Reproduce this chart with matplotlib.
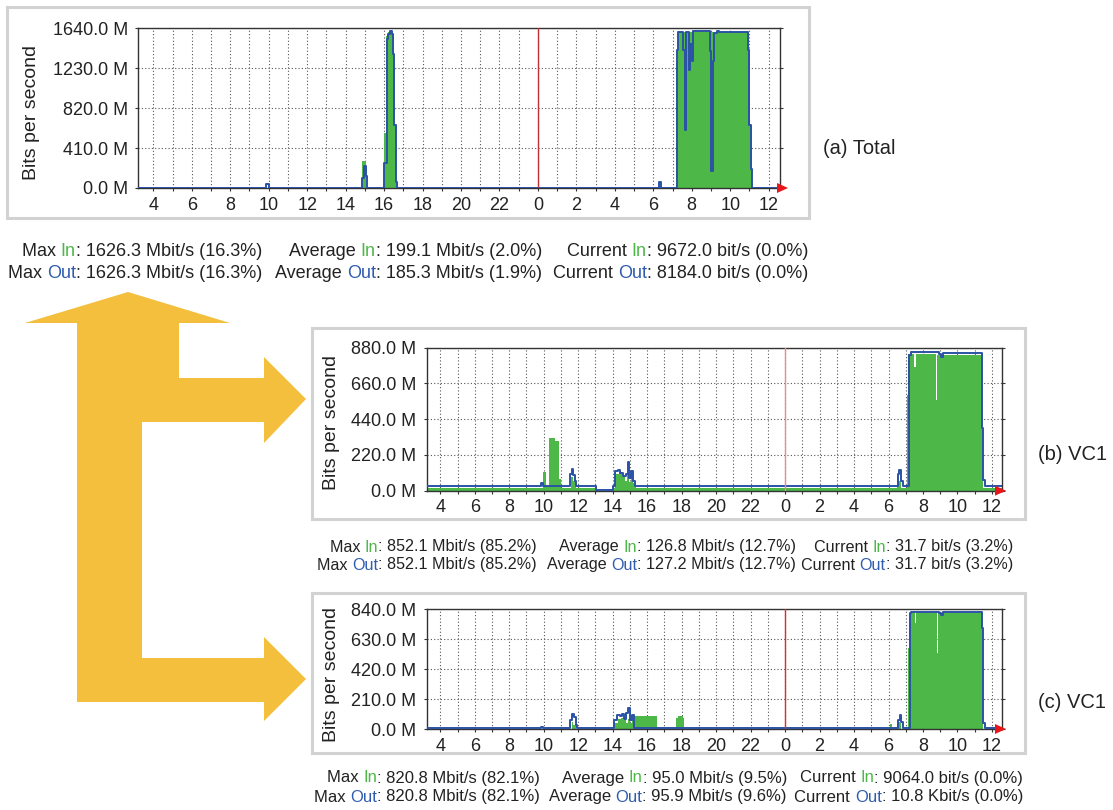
"""
MRTG-style traffic graphs: total link vs. two VC1 views, joined by a yellow arrow.
Writes out.png (1113 x 810 px).
"""

import matplotlib
matplotlib.use("Agg")
import matplotlib.pyplot as plt
from matplotlib.patches import Polygon, Rectangle
from matplotlib.ticker import MultipleLocator

W, H = 1113, 810
plt.rcParams["font.family"] = ["Liberation Sans", "DejaVu Sans"]

GREEN = "#4DB848"
BLUE = "#2B52A6"
TXT_GREEN = "#4DB848"
TXT_BLUE = "#2F5BB0"
TXT = "#222222"
YELLOW = "#F3BF3C"

# time axis in hours from midnight of day 1 (24 = next midnight)
X_START, X_END = 3.2, 36.6
HOUR_TICKS = list(range(4, 37, 2))
HOUR_LABELS = [str(h % 24) for h in HOUR_TICKS]

# (a) Total, Mbit/s
A_YTICKS = [0, 410, 820, 1230, 1640]
A_IN_T = [3.2, 14.85, 15.05, 16.0, 16.12, 16.2, 16.42, 16.53, 16.6,
          31.2, 31.28, 34.98, 35.05, 35.12, 36.6]
A_IN_V = [3, 275, 3, 560, 1560, 1600, 1575, 640, 3,
          1300, 1605, 1420, 650, 3, 3]
A_OUT_T = [3.2, 9.85, 10.0, 14.85, 14.95, 15.05, 15.1, 16.02, 16.13, 16.22,
           16.31, 16.4, 16.45, 16.53, 16.6, 16.66, 30.3, 30.42, 31.22, 31.3,
           31.56, 31.65, 31.72, 31.87, 31.93, 32.0, 32.08, 32.95, 33.0, 33.1,
           33.18, 33.3, 33.4, 34.9, 34.98, 35.07, 35.14, 36.6]
A_OUT_V = [5, 45, 5, 100, 228, 120, 5, 256, 1535, 1585,
           1610, 1585, 1380, 645, 65, 5, 60, 5, 1420, 1600,
           1418, 598, 1600, 1213, 1480, 1300, 1616, 1405, 171, 1300,
           1589, 1616, 1600, 1418, 649, 200, 5, 5]

# (b) VC1, Mbit/s
B_YTICKS = [0, 220, 440, 660, 880]
B_IN_T = [3.2, 9.97, 10.15, 10.32, 10.65, 10.9, 11.02, 11.6, 11.7, 11.85,
          13.0, 14.0, 14.15, 14.35, 14.55, 14.7, 14.85, 14.95, 15.05, 15.2,
          15.35, 30.5, 30.6, 30.75, 31.05, 31.15, 31.5, 31.58, 32.76, 32.83,
          35.42, 35.5, 36.6]
B_IN_V = [18, 117, 30, 326, 305, 70, 18, 86, 60, 18,
          0, 18, 100, 115, 90, 60, 110, 55, 105, 50,
          18, 86, 60, 18, 589, 840, 763, 840, 558, 835,
          386, 18, 18]
B_OUT_T = [3.2, 9.85, 9.95, 11.55, 11.62, 11.72, 11.8, 11.9, 13.02, 14.0,
           14.15, 14.3, 14.45, 14.6, 14.75, 14.88, 14.95, 15.05, 15.2, 15.3,
           30.55, 30.63, 30.72, 30.82, 31.2, 31.3, 32.9, 33.05, 33.15, 35.4,
           35.5, 35.58, 36.6]
B_OUT_V = [30, 50, 30, 100, 133, 95, 60, 30, 3, 30,
           120, 125, 110, 90, 100, 175, 80, 120, 60, 30,
           100, 127, 60, 30, 835, 852, 840, 825, 850, 386,
           66, 30, 30]

# (c) VC1, Mbit/s
C_YTICKS = [0, 210, 420, 630, 840]
C_IN_T = [3.2, 11.62, 11.72, 11.85, 14.15, 14.3, 14.5, 14.6, 14.75, 14.9,
          15.0, 15.1, 15.3, 16.57, 17.7, 17.78, 18.05, 18.13, 30.08, 30.22,
          30.55, 30.65, 30.75, 31.11, 31.2, 31.55, 31.62, 32.8, 32.87, 35.4,
          35.5, 36.6]
C_IN_V = [0, 51, 30, 0, 40, 70, 75, 60, 40, 70,
          45, 60, 91, 0, 75, 91, 75, 0, 33, 0,
          51, 40, 0, 565, 814, 740, 814, 532, 810, 707,
          0, 0]
C_OUT_T = [3.2, 9.85, 9.97, 11.55, 11.65, 11.75, 11.85, 11.95, 14.1, 14.25,
           14.4, 14.55, 14.65, 14.8, 14.9, 15.0, 15.1, 15.25, 30.55, 30.65,
           30.72, 30.82, 31.22, 31.3, 32.9, 33.05, 33.15, 35.4, 35.5, 35.58,
           36.6]
C_OUT_V = [5, 16, 5, 60, 103, 85, 30, 5, 60, 98,
           90, 105, 70, 110, 145, 60, 100, 5, 60, 98,
           50, 5, 810, 818, 812, 800, 816, 707, 41, 5,
           5]

# summary lines: (In value, Out value) for Max / Average / Current
A_MAX = ("1626.3 Mbit/s (16.3%)", "1626.3 Mbit/s (16.3%)")
A_AVG = ("199.1 Mbit/s (2.0%)", "185.3 Mbit/s (1.9%)")
A_CUR = ("9672.0 bit/s (0.0%)", "8184.0 bit/s (0.0%)")
B_MAX = ("852.1 Mbit/s (85.2%)", "852.1 Mbit/s (85.2%)")
B_AVG = ("126.8 Mbit/s (12.7%)", "127.2 Mbit/s (12.7%)")
B_CUR = ("31.7 bit/s (3.2%)", "31.7 bit/s (3.2%)")
C_MAX = ("820.8 Mbit/s (82.1%)", "820.8 Mbit/s (82.1%)")
C_AVG = ("95.0 Mbit/s (9.5%)", "95.9 Mbit/s (9.6%)")
C_CUR = ("9064.0 bit/s (0.0%)", "10.8 Kbit/s (0.0%)")

PANEL_LABELS = ["(a) Total", "(b) VC1", "(c) VC1"]


def px_axes(fig, left, top, right, bottom):
    return fig.add_axes([left / W, 1 - bottom / H, (right - left) / W, (bottom - top) / H])


def draw_panel(fig, box, yticks, t_in, v_in, t_out, v_out, mid_color):
    ax = px_axes(fig, *box)
    ax.fill_between(t_in, v_in, step="post", color=GREEN, linewidth=0, zorder=2)
    ax.step(t_out, v_out, where="post", color=BLUE, lw=1.4, zorder=3)
    ax.axvline(24, color=mid_color, lw=1.0, zorder=4)
    ax.set_xlim(X_START, X_END)
    ax.set_ylim(0, yticks[-1])
    ax.set_xticks(HOUR_TICKS)
    ax.set_xticklabels(HOUR_LABELS)
    ax.xaxis.set_minor_locator(MultipleLocator(1))
    ax.set_yticks(yticks)
    ax.set_yticklabels([f"{v:.1f} M" for v in yticks])
    ax.set_axisbelow(True)
    ax.grid(which="both", axis="x", linestyle=(0, (1, 2)), color="#555555", lw=0.8)
    ax.grid(which="major", axis="y", linestyle=(0, (1, 2)), color="#555555", lw=0.8)
    ax.tick_params(axis="both", which="both", direction="out", length=2.2, width=0.8,
                   color="#333333", labelsize=13, labelcolor=TXT)
    ax.tick_params(axis="x", pad=4)
    ax.tick_params(axis="y", pad=5, right=True)
    for s in ax.spines.values():
        s.set_color("#333333")
        s.set_linewidth(1.0)
    return ax


def stat_line(ov, renderer, x_right, y, parts, size):
    """Right-aligned line made of (text, colour) pieces."""
    def width(s):
        t = ov.text(0, 0, s, fontsize=size)
        w = t.get_window_extent(renderer).width
        t.remove()
        return w
    full = "".join(p for p, _ in parts)
    x_left = x_right - width(full)
    acc = ""
    for text, color in parts:
        acc += text
        x0 = x_left + width(acc) - width(text)
        ov.text(x0, y, text, color=color, fontsize=size, ha="left", va="center")


def stat_block(ov, renderer, ys, ends, mx, avg, cur, size):
    for row, (word, wcol) in enumerate([("In", TXT_GREEN), ("Out", TXT_BLUE)]):
        for x_end, name, vals in zip(ends, ["Max", "Average", "Current"], [mx, avg, cur]):
            stat_line(ov, renderer, x_end, ys[row],
                      [(name + " ", TXT), (word, wcol), (": " + vals[row], TXT)], size)


fig = plt.figure(figsize=(W / 100, H / 100), dpi=100)

draw_panel(fig, (137.9, 28.3, 780.2, 188.0), A_YTICKS, A_IN_T, A_IN_V, A_OUT_T, A_OUT_V, "#C0303A")
draw_panel(fig, (426.5, 347.7, 1002.3, 490.7), B_YTICKS, B_IN_T, B_IN_V, B_OUT_T, B_OUT_V, "#F08A8A")
draw_panel(fig, (426.5, 609.0, 1002.3, 729.0), C_YTICKS, C_IN_T, C_IN_V, C_OUT_T, C_OUT_V, "#E8262B")

ov = fig.add_axes([0, 0, 1, 1], zorder=10)
ov.set_xlim(0, W)
ov.set_ylim(H, 0)
ov.axis("off")
ov.patch.set_alpha(0)

# panel frames
for x0, y0, x1, y1 in [(7, 7, 809, 218), (312, 328, 1025, 519), (312, 593, 1025, 753)]:
    ov.add_patch(Rectangle((x0, y0), x1 - x0, y1 - y0, fill=False, ec="#D2D2D2", lw=2.2))

# red arrow heads at the end of each time axis
for tip_x, base_y in [(788, 188.0), (1006, 490.7), (1006, 729.0)]:
    ov.add_patch(Polygon([(tip_x - 11, base_y - 5), (tip_x, base_y), (tip_x - 11, base_y + 5)],
                         closed=True, fc="#E8161B", ec="none"))

# the yellow branching arrow
arrow = [(128, 292), (230, 323), (179, 323), (179, 378), (264, 378), (264, 357),
         (306, 399), (264, 443), (264, 422), (142, 422), (142, 658), (264, 658),
         (264, 637), (306, 679), (264, 721), (264, 702), (77, 702), (77, 323), (25, 323)]
ov.add_patch(Polygon(arrow, closed=True, fc=YELLOW, ec="none"))

# axis titles and panel captions
for x, y in [(31, 112), (331, 423), (332, 674)]:
    ov.text(x, y, "Bits per second", rotation=90, fontsize=14, color=TXT,
            ha="center", va="center")
for (x, y), lab in zip([(823, 149), (1038, 455), (1038, 702)], PANEL_LABELS):
    ov.text(x, y, lab, fontsize=14.5, color=TXT, ha="left", va="center")

renderer = fig.canvas.get_renderer()
stat_block(ov, renderer, (252, 273), (262, 542, 808), A_MAX, A_AVG, A_CUR, 13)
stat_block(ov, renderer, (547, 565), (537, 796, 1013), B_MAX, B_AVG, B_CUR, 11.6)
stat_block(ov, renderer, (778, 797), (540, 787, 1023), C_MAX, C_AVG, C_CUR, 12)

fig.savefig("out.png", dpi=100)
